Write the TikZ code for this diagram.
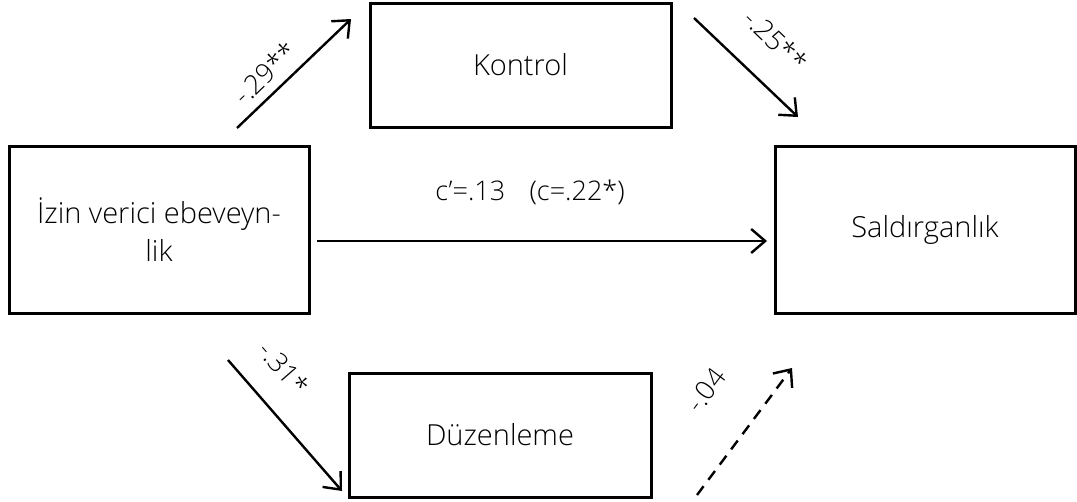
\documentclass[tikz,border=0pt]{standalone}
\usepackage{fontspec}
\setmainfont{Open Sans Light}
\usetikzlibrary{arrows.meta}
\begin{document}
\begin{tikzpicture}[x=1pt,y=-1pt,
  box/.style={draw, line width=3pt, inner sep=0pt, font=\fontsize{29}{38}\selectfont, align=center},
  path/.style={line width=2.4pt, -{Straight Barb[length=14pt,width=24pt,line width=2.4pt]}},
  coef/.style={font=\fontsize{27}{30}\selectfont, inner sep=0pt}]
\useasboundingbox (0,0) rectangle (1077,501);
\node[box, minimum width=300pt, minimum height=167pt] (iv) at (159,229.5) {İzin verici ebeveyn-\\lik};
\node[box, minimum width=301pt, minimum height=124pt] (kon) at (520.5,65) {Kontrol};
\node[box, minimum width=300pt, minimum height=167pt] (sal) at (925,229.5) {Saldırganlık};
\node[box, minimum width=302pt, minimum height=124pt] (duz) at (500,435) {Düzenleme};
\coordinate (a1s) at (237,128); \coordinate (a1e) at (351,19);
\coordinate (a2s) at (694,18);  \coordinate (a2e) at (798,117);
\coordinate (a3s) at (228,360); \coordinate (a3e) at (342,491);
\coordinate (a4s) at (697,495); \coordinate (a4e) at (792,368);
\coordinate (hs) at (317,241);  \coordinate (he) at (767,241);
\draw[path] (a1s) -- (a1e);
\draw[path] (a2s) -- (a2e);
\draw[path] (a3s) -- (a3e);
\draw[path, dash pattern=on 11pt off 8pt] (a4s) -- (a4e);
\draw[path] (hs) -- (he);
\node[coef, rotate=44] (l1) at (265,73) {-.29**};
\node[coef, rotate=-44] (l2) at (776,40) {-.25**};
\node[coef, rotate=-49] (l3) at (284,368) {-.31*};
\node[coef, rotate=53] (l4) at (706,390) {-.04};
\node[coef] (l5) at (530,192) {c’=.13\hspace{0.9em}(c=.22*)};
\end{tikzpicture}
\end{document}
